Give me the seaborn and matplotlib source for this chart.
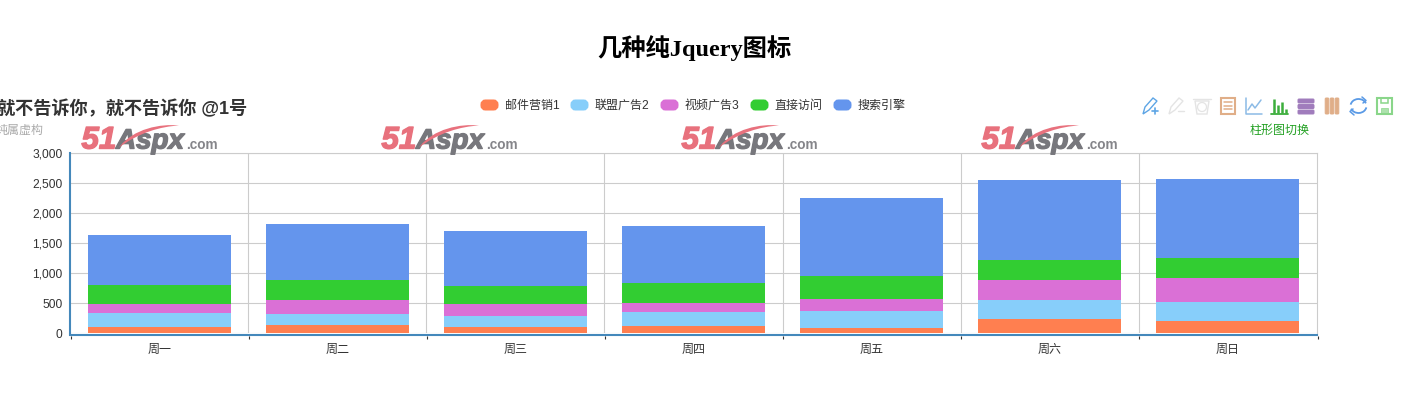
import pandas as pd
import matplotlib
matplotlib.use('Agg')
import matplotlib.pyplot as plt
import matplotlib.patheffects as pe
import seaborn as sns
from matplotlib.patches import FancyBboxPatch, PathPatch, Rectangle, Polygon, Arc
from matplotlib.path import Path
from matplotlib.ticker import FuncFormatter

days = ['周一', '周二', '周三', '周四', '周五', '周六', '周日']
series_names = ['邮件营销1', '联盟广告2', '视频广告3', '直接访问', '搜索引擎']
mail = [105, 138, 105, 122, 88, 238, 205]
union = [233, 184, 183, 233, 289, 317, 317]
video = [154, 233, 195, 145, 190, 333, 405]
direct = [308, 333, 305, 343, 388, 334, 323]
search = [833, 934, 917, 945, 1300, 1333, 1322]
colors = ['#ff7f50', '#87cefa', '#da70d6', '#32cd32', '#6495ed']
y_ticks = [0, 500, 1000, 1500, 2000, 2500, 3000]

SANS = ['Liberation Sans', 'Noto Sans CJK SC']
SERIF = ['Liberation Serif', 'Noto Sans CJK SC']
W, H = 1405, 394
LEFT, RIGHT, TOP, BOTTOM = 70, 1317, 153.3, 333.3

sns.set_theme(style='white')
plt.rcParams['font.family'] = SANS
plt.rcParams['axes.unicode_minus'] = False

df = pd.DataFrame({'day': days, '邮件营销1': mail, '联盟广告2': union, '视频广告3': video,
                   '直接访问': direct, '搜索引擎': search}).set_index('day')
cum = df[series_names].cumsum(axis=1).reset_index()

fig = plt.figure(figsize=(W / 100, H / 100), dpi=100, facecolor='white')
ax = fig.add_axes([LEFT / W, 1 - BOTTOM / H, (RIGHT - LEFT) / W, (BOTTOM - TOP) / H])

# 从最高的累计值开始画，后面的盖住前面的，就是堆叠柱
for name, color in reversed(list(zip(series_names, colors))):
    sns.barplot(data=cum, x='day', y=name, color=color, width=0.803, saturation=1,
                linewidth=0, ax=ax, zorder=3)

ax.set_xlim(-0.5, 6.5)
ax.set_ylim(0, 3000)
ax.set_xlabel('')
ax.set_ylabel('')
ax.set_yticks(y_ticks)
ax.yaxis.set_major_formatter(FuncFormatter(lambda v, p: f'{int(v):,}'))
ax.tick_params(axis='y', length=0, pad=5.5, labelsize=8.64, labelcolor='#333333')
ax.tick_params(axis='x', length=0, pad=7, labelsize=8.64, labelcolor='#333333')
ax.grid(axis='y', color='#cccccc', linewidth=0.8, zorder=0)
for i in range(1, 7):
    ax.axvline(i - 0.5, color='#cccccc', linewidth=0.8, zorder=0)
for side in ['top', 'right']:
    ax.spines[side].set_color('#cccccc')
    ax.spines[side].set_linewidth(0.8)
for side in ['left', 'bottom']:
    ax.spines[side].set_color('#4488bb')
    ax.spines[side].set_linewidth(1.5)
    ax.spines[side].set_zorder(5)
ax.spines['bottom'].set_position(('outward', 1))

# 覆盖层，坐标就是图片像素
ov = fig.add_axes([0, 0, 1, 1], zorder=10)
ov.set_xlim(0, W)
ov.set_ylim(H, 0)
ov.axis('off')
ov.patch.set_alpha(0)

# x 轴刻度
for i in range(8):
    x = LEFT + 0.5 + i * (RIGHT - LEFT) / 7
    ov.plot([x, x], [335.5, 339], color='#333333', lw=0.8, solid_capstyle='butt')

# 标题
ov.text(694.5, 48.5, '几种纯Jquery图标', family=SERIF, fontsize=17.5, fontweight='bold',
        color='black', ha='center', va='center')
ov.text(-3, 109.3, '就不告诉你，就不告诉你 @1号', family=SANS,
        fontsize=13.1, fontweight='bold', color='#333333', ha='left', va='center')
ov.text(-5, 130.5, '纯属虚构', family=SANS, fontsize=8.64, color='#aaaaaa', ha='left', va='center')

# 图例
legend_x = [479.5, 569.5, 659.5, 749.5, 832.5]
for name, color, x in zip(series_names, colors, legend_x):
    ov.add_patch(FancyBboxPatch((x + 3, 101.5), 14, 7, boxstyle='round,pad=0,rounding_size=3',
                                mutation_aspect=1, fc=color, ec=color, lw=2.9))
    ov.text(x + 25, 105.7, name, family=SANS, fontsize=8.64, color='#333333', ha='left', va='center')


# 水印
def logo(x0):
    y0 = 148.5
    heavy = lambda c: [pe.withStroke(linewidth=1.0, foreground=c)]
    ov.text(x0 + 0.5, y0, '51', family='Liberation Sans', fontsize=22.5, fontweight='bold', style='italic',
            color='#e8717d', ha='left', va='baseline', path_effects=heavy('#e8717d'))
    ov.text(x0 + 35, y0, 'Aspx', family='Liberation Sans', fontsize=20, fontweight='bold', style='italic',
            color='#77777c', ha='left', va='baseline', path_effects=heavy('#77777c'))
    ov.text(x0 + 105.5, y0, '.com', family='Liberation Sans', fontsize=9.8, fontweight='bold',
            color='#85858a', ha='left', va='baseline')
    swoosh = Path([(x0 + 38, y0 - 1), (x0 + 52, y0 - 20), (x0 + 80, y0 - 25), (x0 + 98, y0 - 23),
                   (x0 + 80, y0 - 22), (x0 + 58, y0 - 16), (x0 + 38, y0 - 1)],
                  [Path.MOVETO, Path.CURVE4, Path.CURVE4, Path.CURVE4, Path.CURVE4, Path.CURVE4, Path.CURVE4])
    ov.add_patch(PathPatch(swoosh, fc='#e8717d', ec='none', zorder=4))


for x in [81, 381, 681, 981]:
    logo(x)

# 工具栏图标
BLUE, GREY, TAN, LINE, GREEN, PURPLE, SYNC, SAVE = ('#5da5e5', '#e4e4e4', '#e0ae88', '#8cbbe6',
                                                    '#3cae3c', '#a07cbc', '#5a9ae6', '#8ad68a')


def pencil(x, c):
    ov.add_patch(Polygon([(x + 1, 114), (x + 3, 107), (x + 11, 98), (x + 15, 101), (x + 7, 110)],
                         closed=True, fc='none', ec=c, lw=1))


pencil(1142, BLUE)
ov.plot([1152, 1158], [111, 111], color=BLUE, lw=1.2)
ov.plot([1155, 1155], [108, 114], color=BLUE, lw=1.2)
pencil(1168, GREY)
ov.plot([1178, 1184], [111, 111], color=GREY, lw=1)
# 垃圾桶
ov.add_patch(Polygon([(1195, 101), (1209, 101), (1207, 114), (1197, 114)], closed=True, fc='none', ec=GREY, lw=1))
ov.plot([1193, 1211], [99, 99], color=GREY, lw=1)
ov.add_patch(Arc((1202, 107), 9, 9, color=GREY, lw=0.9))
# 文档
ov.add_patch(Rectangle((1221, 98), 14, 16, fc='none', ec=TAN, lw=1.5))
for yy in [102, 105.5, 109]:
    ov.plot([1224, 1232], [yy, yy], color=TAN, lw=1.1)
# 折线
ov.plot([1246, 1246, 1262], [98, 114, 114], color=LINE, lw=1.1)
ov.plot([1248, 1252, 1255, 1261], [110, 104, 108, 100], color=LINE, lw=1.1)
# 柱形
ov.plot([1271, 1288], [114, 114], color=GREEN, lw=1.3)
for xx, top in [(1273.5, 99), (1277.5, 105), (1281.5, 102), (1285.5, 109)]:
    ov.plot([xx, xx], [top, 113], color=GREEN, lw=1.8, solid_capstyle='butt')
# 堆叠
for yy in [101, 106.5, 112]:
    ov.add_patch(FancyBboxPatch((1298, yy - 2), 16, 4, boxstyle='round,pad=0,rounding_size=1', fc=PURPLE, ec=PURPLE, lw=0.7))
# 平铺
for xx in [1327, 1332, 1337]:
    ov.add_patch(FancyBboxPatch((xx - 1.8, 98), 3.6, 16, boxstyle='round,pad=0,rounding_size=1', fc=TAN, ec=TAN, lw=0.7))
# 刷新
ov.add_patch(Arc((1358.5, 106), 16, 14, theta1=190, theta2=340, color=SYNC, lw=1.3))
ov.add_patch(Arc((1358.5, 106), 16, 14, theta1=10, theta2=160, color=SYNC, lw=1.3))
ov.plot([1362, 1366, 1363], [97, 100.5, 103], color=SYNC, lw=1.1)
ov.plot([1354, 1350, 1353], [115, 111.5, 109], color=SYNC, lw=1.1)
# 保存
ov.add_patch(Rectangle((1377, 98), 15, 16, fc='none', ec=SAVE, lw=1.5))
ov.add_patch(Rectangle((1381, 98), 7, 5, fc='none', ec=SAVE, lw=1.1))
ov.add_patch(Rectangle((1381, 108), 7, 6, fc=SAVE, ec=SAVE, lw=0.7, alpha=0.7))

ov.text(1279.5, 130.5, '柱形图切换', family=SANS, fontsize=8.64, color='#22a022', ha='center', va='center')

fig.savefig('out.png', dpi=100)
